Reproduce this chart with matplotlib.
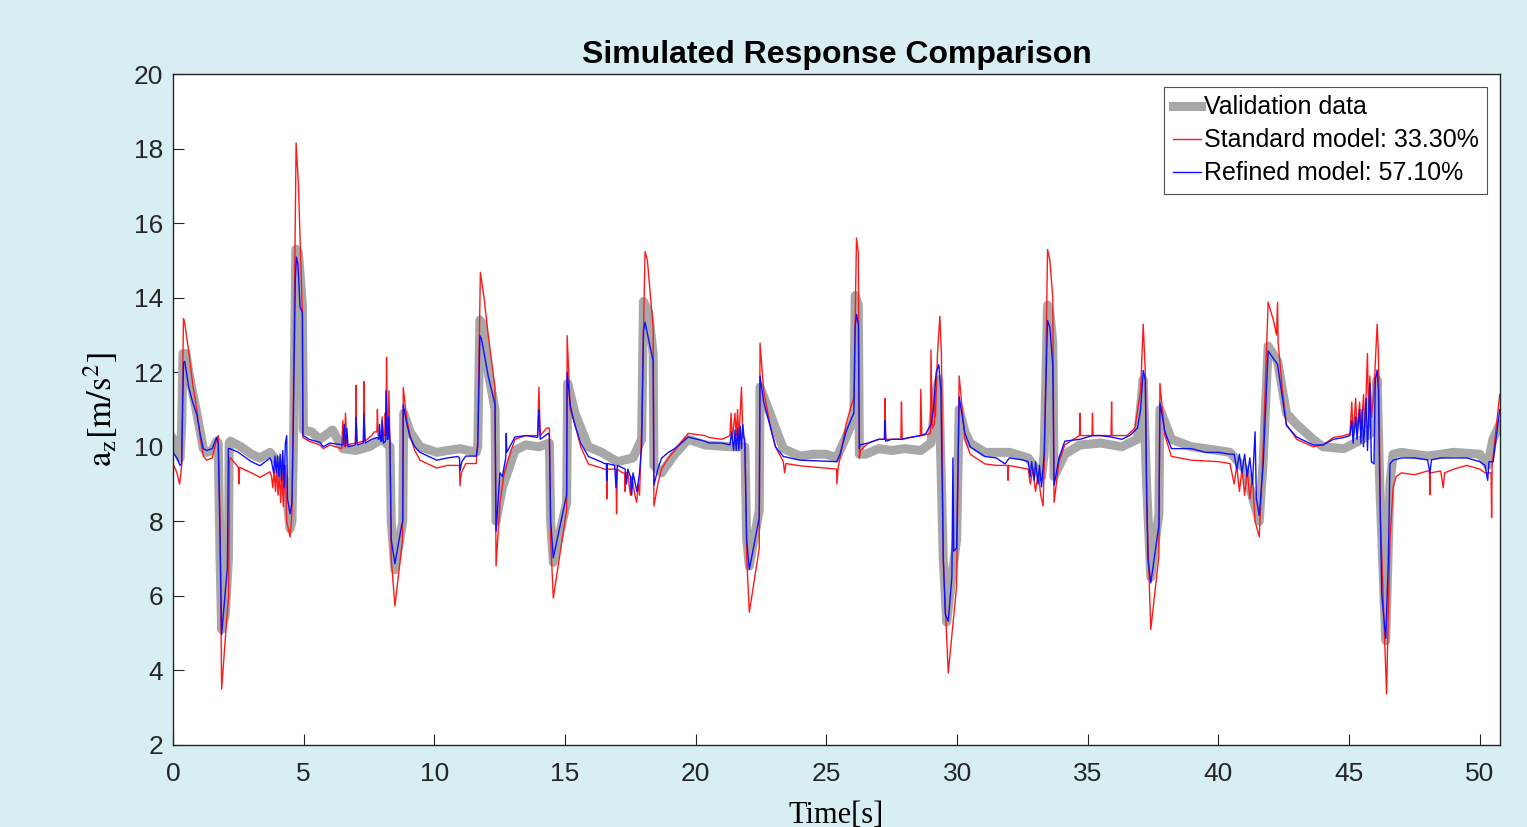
import matplotlib
matplotlib.use("Agg")
import matplotlib.pyplot as plt

# ================= data =================
# validation data (thick gray)
val_t = [0.0, 0.15, 0.27, 0.33, 0.38, 0.5, 0.6, 0.91, 1.16, 1.29, 1.5, 1.67, 1.73, 1.80, 1.86, 2.0,
         2.12, 2.15, 2.2, 2.6, 3.0, 3.33, 3.71, 4.0, 4.3, 4.48, 4.55, 4.62, 4.7, 4.8, 4.95, 4.99,
         5.3, 5.62, 6.1, 6.5, 7.0, 7.5, 8.0, 8.3, 8.35, 8.49, 8.79, 8.83, 9.07, 9.45, 10.09, 10.5,
         11.0, 11.6, 11.66, 11.74, 11.85, 12.06, 12.32, 12.36, 12.6, 13.08, 13.5, 14.0, 14.4, 14.45,
         14.55, 15.06, 15.1, 15.38, 15.89, 16.4, 17.0, 17.6, 17.93, 18.0, 18.2, 18.37, 18.4, 18.69,
         19.2, 19.71, 20.35, 21.31, 21.88, 21.95, 22.05, 22.43, 22.46, 22.84, 23.35, 23.99, 24.5,
         25.0, 25.39, 25.52, 25.96, 26.05, 26.1, 26.22, 26.26, 26.5, 27.0, 27.5, 28.0, 28.61, 29.0,
         29.2, 29.3, 29.47, 29.6, 29.8, 29.98, 30.08, 30.3, 30.5, 31.06, 32.0, 32.72, 33.23, 33.33,
         33.46, 33.55, 33.66, 33.71, 34.12, 34.7, 35.5, 36.3, 36.9, 37.12, 37.25, 37.41, 37.72,
         37.76, 38.2, 38.97, 40.0, 40.44, 41.0, 41.56, 41.71, 41.9, 42.26, 42.6, 42.99, 43.62, 44.0,
         44.8, 45.5, 45.9, 46.07, 46.17, 46.4, 46.56, 46.68, 47.0, 48.0, 49.0, 50.0, 50.3, 50.5, 50.76]
val_a = [10.2, 10.0, 9.7, 10.5, 12.5, 12.5, 12.0, 10.9, 9.95, 9.85, 9.9, 10.15, 10.1, 7.0, 5.1, 5.5,
         7.0, 10.1, 10.15, 10.0, 9.8, 9.7, 9.85, 9.6, 9.0, 7.8, 8.0, 10.5, 15.3, 15.2, 13.8, 10.45,
         10.4, 10.2, 10.45, 9.95, 9.9, 10.0, 10.2, 10.0, 8.0, 6.7, 8.0, 10.9, 10.4, 10.0, 9.85, 9.9,
         9.95, 9.85, 10.0, 13.4, 13.3, 12.0, 11.0, 8.0, 8.9, 9.9, 10.05, 10.0, 10.1, 8.0,
         6.9, 8.5, 11.7, 10.9, 10.0, 9.85, 9.6, 9.7, 10.2, 13.9, 13.6, 12.5, 9.5, 9.3,
         9.8, 10.2, 10.05, 10.0, 10.0, 7.5, 6.8, 8.3, 11.6, 10.9, 9.95, 9.75, 9.8,
         9.8, 9.7, 9.9, 10.6, 10.8, 14.06, 13.8, 9.8, 9.8, 9.95, 9.9, 9.95, 9.9, 10.1,
         11.5, 11.8, 7.0, 5.3, 6.5, 7.5, 11.0, 10.4, 10.1, 9.85, 9.85, 9.7, 9.2, 9.8,
         13.8, 13.6, 12.8, 9.2, 9.8, 10.05, 10.1, 10.0, 10.2, 11.8, 9.0, 6.5, 8.2,
         11.0, 10.2, 10.0, 9.9, 9.85, 9.4, 8.0, 9.6, 12.7, 12.3, 10.9, 10.6, 10.2, 10.0,
         9.95, 10.2, 10.4, 11.8, 9.0, 4.8, 9.0, 9.8, 9.85, 9.75, 9.85, 9.8, 9.5, 10.2, 10.6]

# standard model (red)
std_t = [0.0, 0.15, 0.25, 0.29, 0.33, 0.40, 0.45, 0.59, 0.75, 0.91, 1.05, 1.16, 1.29, 1.5, 1.67, 1.73,
         1.80, 1.86, 2.08, 2.13, 2.16, 2.2, 2.5, 2.52, 2.55, 3.0, 3.33, 3.71, 3.77, 3.82, 3.87, 3.92,
         3.97, 4.02, 4.07, 4.12, 4.17, 4.22, 4.3, 4.35, 4.48, 4.55, 4.6, 4.71, 4.8, 4.86, 4.95, 4.97,
         5.2, 5.62, 5.75, 6.0, 6.45, 6.5, 6.55, 6.6, 6.65, 6.98, 7.0, 7.03, 7.29, 7.31, 7.34, 7.6,
         7.7, 7.8, 7.82, 7.85, 7.98, 8.0, 8.05, 8.1, 8.12, 8.15, 8.17, 8.2, 8.24, 8.26, 8.3, 8.35,
         8.49, 8.78, 8.81, 8.95, 9.07, 9.25, 9.45, 10.09, 10.5, 10.9, 10.96, 10.98, 11.03, 11.2, 11.6,
         11.66, 11.76, 11.9, 12.06, 12.32, 12.36, 12.51, 12.65, 12.8, 13.08, 13.5, 13.95, 14.0, 14.05,
         14.3, 14.4, 14.45, 14.55, 15.06, 15.08, 15.2, 15.38, 15.6, 15.89, 16.4, 16.5, 16.58, 16.6,
         16.62, 16.95, 16.97, 17.0, 17.2, 17.28, 17.3, 17.32, 17.4, 17.5, 17.55, 17.67, 17.74, 17.8,
         17.85, 17.93, 18.06, 18.15, 18.37, 18.4, 18.55, 18.69, 18.95, 19.2, 19.71, 20.35, 20.5, 21.0,
         21.31, 21.35, 21.4, 21.5, 21.55, 21.6, 21.65, 21.75, 21.8, 21.88, 21.95, 22.05, 22.43, 22.46,
         22.6, 22.84, 23.05, 23.35, 23.4, 23.45, 23.99, 25.39, 25.4, 25.45, 25.52, 25.75, 25.96, 26.05,
         26.15, 26.22, 26.26, 26.3, 26.6, 27.0, 27.22, 27.24, 27.27, 27.85, 27.87, 27.9, 28.2, 28.59,
         28.61, 28.65, 28.98, 29.0, 29.05, 29.13, 29.15, 29.17, 29.25, 29.34, 29.4, 29.47, 29.66, 29.98,
         30.08, 30.3, 30.5, 31.06, 31.5, 31.93, 31.95, 31.97, 32.72, 32.8, 32.9, 33.0, 33.1, 33.2,
         33.29, 33.35, 33.46, 33.55, 33.66, 33.71, 33.9, 34.12, 34.68, 34.7, 34.72, 35.16, 35.18, 35.2,
         35.89, 35.91, 35.93, 36.5, 36.8, 37.02, 37.12, 37.2, 37.25, 37.41, 37.72, 37.76, 37.95, 38.2,
         38.97, 40.0, 40.44, 40.6, 40.7, 40.8, 40.9, 41.0, 41.1, 41.2, 41.3, 41.4, 41.56, 41.71,
         41.9, 42.1, 42.22, 42.26, 42.28, 42.45, 42.6, 42.99, 43.62, 44.0, 44.4, 44.8, 45.03, 45.1,
         45.15, 45.25, 45.3, 45.4, 45.45, 45.55, 45.6, 45.7, 45.75, 45.79, 45.85, 45.95, 46.07, 46.12,
         46.2, 46.43, 46.56, 46.68, 46.8, 47.0, 47.5, 48.0, 48.07, 48.09, 48.11, 48.5, 48.6, 48.65,
         49.0, 49.5, 50.0, 50.2, 50.43, 50.45, 50.47, 50.76]
std_a = [9.55, 9.3, 9.0, 9.2, 9.5, 13.44, 13.3, 12.62, 11.7, 11.0, 10.2, 9.75, 9.64, 9.7, 10.2, 10.3,
         8.0, 3.5, 5.6, 6.0, 9.7, 9.7, 9.45, 9.0, 9.45, 9.3, 9.18, 9.33, 9.2, 8.9, 9.4, 8.8,
         9.4, 8.7, 9.3, 8.5, 9.4, 8.4, 9.5, 8.0, 7.58, 8.2, 11.0, 18.15, 17.0, 15.6, 13.6, 10.25,
         10.15, 10.05, 9.95, 10.05, 9.95, 10.7, 10.0, 10.9, 10.05, 10.1, 11.65, 10.1, 10.15, 11.75, 10.15, 10.3,
         10.4, 10.4, 11.0, 10.3, 10.3, 10.8, 10.3, 10.3, 10.9, 10.3, 12.4, 10.3, 10.3, 11.5, 10.2, 7.0,
         5.73, 7.5, 11.59, 10.7, 10.3, 9.9, 9.64, 9.43, 9.5, 9.5, 9.5, 8.95, 9.3, 9.55, 9.55,
         10.2, 14.68, 14.0, 13.0, 11.59, 6.8, 8.5, 9.2, 9.6, 10.2, 10.3, 10.3, 11.6, 10.3,
         10.5, 10.5, 7.5, 5.94, 8.3, 12.98, 11.0, 10.6, 10.0, 9.54, 9.43, 9.4, 9.4, 8.6,
         9.4, 9.4, 8.2, 9.4, 9.3, 9.3, 8.8, 9.3, 9.3, 8.7, 9.2, 8.71, 8.51, 9.0,
         8.7, 10.5, 15.24, 15.0, 13.2, 8.41, 9.0, 9.4, 9.7, 9.9, 10.36, 10.3, 10.25, 10.2,
         10.3, 10.9, 10.2, 10.9, 10.3, 11.0, 10.2, 11.6, 10.3, 10.2, 7.0, 5.56, 7.28, 12.78,
         11.5, 10.6, 10.0, 9.6, 9.3, 9.55, 9.49, 9.4, 9.0, 9.45, 9.7, 10.6, 11.13, 11.3,
         15.6, 15.2, 9.7, 9.9, 10.1, 10.2, 10.2, 11.3, 10.2, 10.2, 11.2, 10.2, 10.25, 10.3,
         11.54, 10.3, 10.35, 12.6, 10.5, 10.6, 11.5, 10.8, 12.5, 13.5, 12.5, 7.0, 3.93, 6.25,
         11.9, 10.2, 9.8, 9.54, 9.5, 9.5, 9.1, 9.5, 9.4, 9.0, 9.4, 8.8, 9.3, 8.7,
         8.41, 10.0, 15.29, 15.0, 14.0, 8.51, 9.6, 10.05, 10.3, 10.9, 10.3, 10.3, 10.9, 10.3,
         10.3, 11.2, 10.3, 10.3, 10.5, 11.5, 13.29, 12.0, 8.5, 5.1, 7.07, 11.7, 10.3, 9.74,
         9.64, 9.6, 9.55, 9.0, 9.5, 8.8, 9.4, 8.7, 9.4, 8.6, 9.2, 8.0, 7.58, 10.0,
         13.88, 13.4, 13.0, 13.88, 12.8, 11.5, 10.6, 10.2, 10.0, 10.05, 10.25, 10.3, 10.35, 11.2,
         10.3, 11.3, 10.4, 11.2, 10.3, 11.4, 10.4, 12.5, 10.5, 11.9, 10.8, 11.5, 13.29, 12.5,
         8.0, 3.37, 7.5, 8.9, 9.2, 9.3, 9.25, 9.35, 9.35, 8.71, 9.3, 9.35, 8.9, 9.3,
         9.4, 9.5, 9.4, 9.3, 9.3, 8.1, 9.5, 11.4]

# refined model (blue)
ref_t = [0.0, 0.15, 0.27, 0.33, 0.40, 0.45, 0.6, 0.75, 0.91, 1.05, 1.16, 1.29, 1.5, 1.67, 1.73, 1.80,
         1.86, 2.08, 2.12, 2.18, 2.5, 3.0, 3.33, 3.71, 3.77, 3.85, 3.9, 3.95, 4.0, 4.05, 4.1, 4.15,
         4.2, 4.25, 4.3, 4.35, 4.38, 4.48, 4.55, 4.60, 4.68, 4.72, 4.78, 4.86, 4.95, 4.97, 5.2, 5.62,
         5.75, 6.0, 6.5, 6.55, 6.6, 6.65, 6.7, 6.98, 7.0, 7.05, 7.28, 7.3, 7.35, 7.6, 7.8, 7.88,
         7.9, 7.95, 7.98, 8.0, 8.05, 8.13, 8.15, 8.2, 8.23, 8.25, 8.30, 8.35, 8.49, 8.75, 8.79, 8.81,
         8.95, 9.07, 9.25, 9.45, 10.09, 10.5, 10.9, 10.96, 10.98, 11.05, 11.2, 11.6, 11.66, 11.74,
         11.8, 12.06, 12.32, 12.36, 12.51, 12.6, 12.73, 12.75, 12.77, 13.08, 13.5, 13.95, 14.0, 14.05,
         14.36, 14.4, 14.45, 14.55, 15.06, 15.08, 15.2, 15.38, 15.6, 15.89, 16.4, 16.5, 16.58, 16.6,
         16.62, 16.9, 16.95, 17.0, 17.3, 17.35, 17.4, 17.5, 17.55, 17.6, 17.67, 17.75, 17.85, 17.93,
         18.0, 18.06, 18.37, 18.4, 18.55, 18.69, 18.95, 19.2, 19.71, 20.35, 20.5, 21.0, 21.31, 21.37,
         21.45, 21.5, 21.55, 21.6, 21.65, 21.7, 21.75, 21.8, 21.88, 21.95, 22.05, 22.43, 22.46, 22.6,
         22.84, 23.05, 23.35, 23.99, 25.39, 25.52, 25.75, 25.96, 26.05, 26.1, 26.15, 26.22, 26.26,
         26.28, 26.6, 27.0, 27.22, 27.24, 27.27, 27.5, 27.87, 28.2, 28.61, 28.8, 29.0, 29.09, 29.2,
         29.3, 29.38, 29.47, 29.55, 29.66, 29.8, 29.84, 29.87, 29.98, 30.08, 30.3, 30.5, 31.06, 31.5,
         31.83, 32.0, 32.5, 32.72, 32.8, 32.85, 32.95, 33.0, 33.1, 33.15, 33.23, 33.33, 33.46, 33.55,
         33.66, 33.71, 33.9, 34.12, 34.7, 35.18, 35.5, 35.91, 36.3, 36.6, 36.9, 37.02, 37.12, 37.2,
         37.25, 37.3, 37.41, 37.72, 37.76, 37.95, 38.2, 38.97, 39.5, 40.0, 40.44, 40.6, 40.7, 40.8,
         40.9, 41.0, 41.1, 41.2, 41.3, 41.4, 41.45, 41.56, 41.71, 41.9, 42.26, 42.45, 42.6, 42.99,
         43.62, 44.0, 44.4, 44.8, 45.03, 45.1, 45.15, 45.25, 45.3, 45.4, 45.45, 45.5, 45.55, 45.65,
         45.7, 45.79, 45.85, 45.95, 46.0, 46.07, 46.12, 46.17, 46.25, 46.4, 46.5, 46.56, 46.68, 47.0,
         47.5, 48.0, 48.09, 48.15, 48.5, 49.0, 49.5, 50.0, 50.2, 50.3, 50.35, 50.51, 50.76]
ref_a = [9.85, 9.7, 9.5, 9.55, 12.25, 12.29, 11.6, 11.2, 10.87, 10.3, 9.95, 9.9, 9.95, 10.25, 10.1, 7.5,
         4.96, 6.76, 9.95, 9.95, 9.85, 9.6, 9.49, 9.7, 9.6, 9.3, 9.75, 9.3, 9.75, 9.2, 9.8, 9.1,
         9.9, 8.9, 10.1, 10.3, 8.6, 8.2, 8.5, 10.5, 14.5, 15.09, 14.9, 13.75, 13.6, 10.31, 10.2, 10.12,
         10.0, 10.1, 10.05, 10.6, 10.0, 10.5, 10.0, 10.05, 10.8, 10.05, 10.1, 10.9, 10.1, 10.2, 10.25, 10.2,
         10.6, 10.15, 10.15, 10.7, 10.1, 10.15, 11.5, 10.2, 10.2, 10.8, 10.1, 7.5, 6.86, 7.9, 8.0, 11.13,
         10.6, 10.26, 10.0, 9.85, 9.64, 9.7, 9.74, 9.7, 9.35, 9.6, 9.75, 9.75, 10.0, 12.98,
         12.9, 11.9, 11.13, 7.74, 9.3, 9.2, 9.7, 10.36, 9.85, 10.26, 10.3, 10.25, 11.0, 10.2,
         10.36, 10.3, 8.0, 7.02, 8.71, 12.0, 11.1, 10.57, 10.1, 9.74, 9.59, 9.55, 9.55, 9.1,
         9.55, 9.5, 8.9, 9.5, 9.4, 9.0, 9.4, 9.2, 8.7, 9.3, 9.07, 8.8, 9.3, 10.0,
         13.1, 13.34, 12.3, 8.97, 9.4, 9.69, 9.85, 9.95, 10.26, 10.15, 10.1, 10.1, 10.05, 10.4,
         9.9, 10.45, 9.9, 10.5, 9.9, 10.55, 9.95, 10.6, 10.0, 7.5, 6.71, 8.1, 11.9, 11.2,
         10.57, 10.0, 9.74, 9.64, 9.6, 9.8, 10.4, 10.77, 10.9, 13.2, 13.55, 13.3, 9.95,
         10.05, 10.1, 10.2, 10.2, 10.7, 10.15, 10.2, 10.2, 10.25, 10.3, 10.35, 10.6, 11.0, 12.0,
         12.2, 11.5, 7.0, 5.5, 5.32, 6.5, 9.7, 7.2, 7.28, 11.34, 10.36, 10.0, 9.74, 9.7,
         9.54, 9.7, 9.65, 9.6, 9.2, 9.6, 9.1, 9.6, 9.0, 9.5, 8.92, 9.8, 13.39, 13.2,
         12.2, 8.97, 9.7, 10.15, 10.2, 10.3, 10.3, 10.26, 10.2, 10.3, 10.5, 11.0, 12.05, 11.8,
         9.0, 7.0, 6.35, 7.89, 11.18, 10.4, 9.95, 9.95, 9.85, 9.85, 9.8, 9.8, 9.4, 9.8,
         9.3, 9.8, 9.2, 9.7, 9.0, 10.4, 8.6, 8.15, 9.5, 12.57, 12.21, 11.3, 10.57, 10.26,
         10.05, 10.05, 10.2, 10.25, 10.3, 10.7, 10.1, 10.8, 10.2, 11.0, 10.1, 11.0, 10.0, 11.3,
         9.9, 11.7, 9.6, 9.54, 11.8, 12.06, 11.5, 9.0, 6.0, 4.86, 7.0, 9.54, 9.64, 9.7,
         9.7, 9.65, 9.3, 9.65, 9.7, 9.7, 9.7, 9.6, 9.5, 9.1, 9.6, 9.6, 11.0]

x_ticks = [0, 5, 10, 15, 20, 25, 30, 35, 40, 45, 50]
y_ticks = [2, 4, 6, 8, 10, 12, 14, 16, 18, 20]
legend_labels = ["Validation data", "Standard model: 33.30%", "Refined model: 57.10%"]
# ================================================================

BG = "#d7eef3"
plt.rcParams["font.family"] = ["Liberation Sans", "DejaVu Sans"]
plt.rcParams["mathtext.fontset"] = "stix"

fig = plt.figure(figsize=(15.27, 8.27), dpi=100, facecolor=BG)
ax = fig.add_axes([0.1133, 0.0992, 0.8690, 0.8113])
ax.set_facecolor("white")

ax.plot(val_t, val_a, color="#a8a8a8", lw=6.5, solid_joinstyle="round", label=legend_labels[0])
ax.plot(std_t, std_a, color="#ff1a1a", lw=1.0, label=legend_labels[1])
ax.plot(ref_t, ref_a, color="#1010ff", lw=1.0, label=legend_labels[2])

ax.set_xlim(0, 50.77)
ax.set_ylim(2, 20)
ax.set_xticks(x_ticks)
ax.set_yticks(y_ticks)
ax.tick_params(direction="in", length=8, width=0.8, labelsize=19, colors="#262626")
ax.tick_params(axis="x", pad=12)
ax.tick_params(axis="y", pad=7)
for s in ax.spines.values():
    s.set_color("#262626")
    s.set_linewidth(1.0)

ax.set_title("Simulated Response Comparison", fontsize=23, fontweight="bold", pad=8)
ax.set_xlabel("Time[s]", fontsize=22, family="Liberation Serif", labelpad=11)
ax.set_ylabel(r"$\mathrm{a_z[m/s^2]}$", fontsize=25, labelpad=10)

leg = ax.legend(loc="upper right", fontsize=18, frameon=True, fancybox=False,
                handlelength=1.15, handletextpad=0.1, borderpad=0.35, labelspacing=0.36,
                borderaxespad=0.5)
leg.get_frame().set_edgecolor("#262626")
leg.get_frame().set_linewidth(0.8)

fig.savefig("out.png", dpi=100, facecolor=BG)
